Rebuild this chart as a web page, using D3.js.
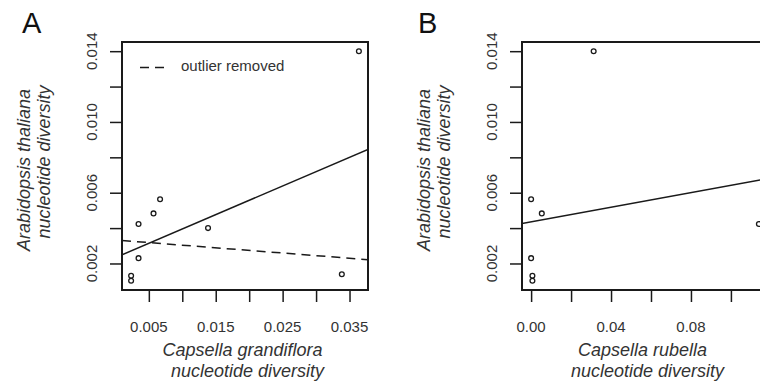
<!DOCTYPE html>
<html>
<head>
<meta charset="utf-8">
<script src="https://cdn.jsdelivr.net/npm/d3@7"></script>
<style>
  html, body { margin: 0; padding: 0; background: #fff; }
  svg { display: block; }
  text { font-family: "Liberation Sans", Arial, Helvetica, sans-serif; fill: #333; }
</style>
</head>
<body>
<svg id="chart" width="760" height="384"></svg>
<script>
// ---- Data ----
// Arabidopsis thaliana nucleotide diversity (y) vs Capsella grandiflora (x), panel A
const grandifloraX = [0.00235, 0.00235, 0.00346, 0.00346, 0.0057, 0.00668, 0.01385, 0.03385, 0.0364];
const thalianaY_A  = [0.0013, 0.00102, 0.00423, 0.0023, 0.00483, 0.00563, 0.0040, 0.00139, 0.0140];
// Panel B: vs Capsella rubella (visible points)
const rubellaX    = [0.00065, 0.00065, 0.114, 0.0, 0.00535, 0.0, 0.0313];
const thalianaY_B = [0.0013, 0.00102, 0.00423, 0.0023, 0.00483, 0.00563, 0.0140];
// Regression lines: [intercept, slope]
const fitA_all     = [0.00233, 0.1621];
const fitA_noOutl  = [0.00333, -0.02956];
const fitB_all     = [0.00436, 0.0206];
// Ticks
const xTicksA = [0.005, 0.010, 0.015, 0.020, 0.025, 0.030, 0.035];
const xLabelsA = ["0.005", "", "0.015", "", "0.025", "", "0.035"];
const xTicksB = [0.00, 0.02, 0.04, 0.06, 0.08, 0.10];
const xLabelsB = ["0.00", "", "0.04", "", "0.08", ""];
const yTicks = [0.002, 0.004, 0.006, 0.008, 0.010, 0.012, 0.014];
const yLabels = ["0.002", "", "0.006", "", "0.010", "", "0.014"];
const legendText = "outlier removed";

const svg = d3.select("#chart");
svg.append("rect").attr("width", 760).attr("height", 384).attr("fill", "#fff");

const INK = "#1a1a1a";

function pad(ext) { const r = ext[1] - ext[0]; return [ext[0] - 0.04 * r, ext[1] + 0.04 * r]; }

function panel(opts) {
  const { ox, letter, xs, ys, xTicks, xLabels, xTitle, fits } = opts;
  const left = 122 + ox, right = 368 + ox, top = 42, bottom = 290;
  const x = d3.scaleLinear().domain(pad(d3.extent(xs))).range([left, right]);
  const y = d3.scaleLinear().domain(pad([0.00102, 0.0140])).range([bottom, top]);
  const g = svg.append("g");

  // clip
  const cid = "clip" + letter;
  svg.append("clipPath").attr("id", cid).append("rect")
    .attr("x", left).attr("y", top).attr("width", right - left).attr("height", bottom - top);

  // y axis ticks
  const ya = g.append("g").attr("transform", `translate(${left},0)`)
    .call(d3.axisLeft(y).tickValues(yTicks).tickSize(12).tickFormat(""));
  ya.select(".domain").remove();
  ya.selectAll(".tick line").attr("stroke", INK).attr("stroke-width", 1.5);
  g.append("line").attr("x1", left).attr("x2", left)
    .attr("y1", y(yTicks[0])).attr("y2", y(yTicks[yTicks.length - 1]))
    .attr("stroke", INK).attr("stroke-width", 1.5);
  yTicks.forEach((t, i) => {
    if (!yLabels[i]) return;
    g.append("text").attr("transform", `translate(${left - 25},${y(t)}) rotate(-90)`)
      .attr("text-anchor", "middle").attr("font-size", 15).text(yLabels[i]);
  });

  // x axis ticks
  const xa = g.append("g").attr("transform", `translate(0,${bottom})`)
    .call(d3.axisBottom(x).tickValues(xTicks).tickSize(12).tickFormat(""));
  xa.select(".domain").remove();
  xa.selectAll(".tick line").attr("stroke", INK).attr("stroke-width", 1.5);
  xTicks.forEach((t, i) => {
    if (!xLabels[i]) return;
    g.append("text").attr("x", x(t)).attr("y", 332)
      .attr("text-anchor", "middle").attr("font-size", 15).text(xLabels[i]);
  });

  // box
  g.append("rect").attr("x", left).attr("y", top).attr("width", right - left).attr("height", bottom - top)
    .attr("fill", "none").attr("stroke", INK).attr("stroke-width", 2);

  // fits
  const xd = x.domain();
  fits.forEach(f => {
    g.append("line").attr("clip-path", `url(#${cid})`)
      .attr("x1", x(xd[0])).attr("y1", y(f.p[0] + f.p[1] * xd[0]))
      .attr("x2", x(xd[1])).attr("y2", y(f.p[0] + f.p[1] * xd[1]))
      .attr("stroke", INK).attr("stroke-width", 1.5)
      .attr("stroke-dasharray", f.dash ? "9,6" : null);
  });

  // points
  g.selectAll("circle.pt").data(xs.map((v, i) => [v, ys[i]])).join("circle")
    .attr("class", "pt").attr("cx", d => x(d[0])).attr("cy", d => y(d[1])).attr("r", 2.4)
    .attr("fill", "none").attr("stroke", INK).attr("stroke-width", 1.3);

  // titles
  const cx = (left + right) / 2;
  g.append("text").attr("x", cx - 2.5).attr("y", 356).attr("text-anchor", "middle")
    .attr("font-size", 18).attr("font-style", "italic").text(xTitle[0]);
  g.append("text").attr("x", cx + 2.5).attr("y", 377).attr("text-anchor", "middle")
    .attr("font-size", 18).attr("font-style", "italic").text(xTitle[1]);
  const cy = (top + bottom) / 2;
  g.append("text").attr("transform", `translate(${30 + ox},${cy + 4}) rotate(-90)`)
    .attr("text-anchor", "middle").attr("font-size", 18).attr("font-style", "italic")
    .text("Arabidopsis thaliana");
  g.append("text").attr("transform", `translate(${50 + ox},${cy - 4}) rotate(-90)`)
    .attr("text-anchor", "middle").attr("font-size", 18).attr("font-style", "italic")
    .text("nucleotide diversity");

  // panel letter
  svg.append("text").attr("x", 22 + ox * 0.99).attr("y", 33).attr("font-size", 29)
    .style("fill", "#111").text(letter);

  return { g, x, y, left, top };
}

const A = panel({
  ox: 0, letter: "A", xs: grandifloraX, ys: thalianaY_A,
  xTicks: xTicksA, xLabels: xLabelsA,
  xTitle: ["Capsella grandiflora", "nucleotide diversity"],
  fits: [{ p: fitA_all, dash: false }, { p: fitA_noOutl, dash: true }]
});
const B = panel({
  ox: 400, letter: "B", xs: rubellaX, ys: thalianaY_B,
  xTicks: xTicksB, xLabels: xLabelsB,
  xTitle: ["Capsella rubella", "nucleotide diversity"],
  fits: [{ p: fitB_all, dash: false }]
});

// legend in panel A
A.g.append("line").attr("x1", 140).attr("x2", 164).attr("y1", 67.5).attr("y2", 67.5)
  .attr("stroke", INK).attr("stroke-width", 1.5).attr("stroke-dasharray", "9,6");
A.g.append("text").attr("x", 181).attr("y", 71).attr("font-size", 15).text(legendText);
</script>
</body>
</html>
